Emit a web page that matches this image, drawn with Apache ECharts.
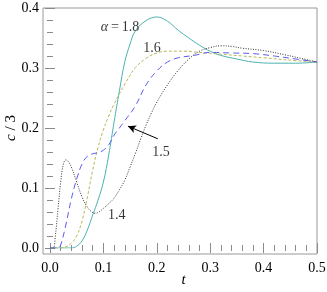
<!DOCTYPE html>
<html><head><meta charset="utf-8">
<script src="https://cdn.jsdelivr.net/npm/echarts@6/dist/echarts.min.js"></script>
<style>html,body{margin:0;padding:0;background:#fff}#c{width:327px;height:292px}</style>
</head><body><div id="c"></div>
<script>
// alpha = 1.8 (teal, solid)
var t18 = [0, 0.04, 0.05, 0.06, 0.07, 0.08, 0.09, 0.10, 0.11, 0.12, 0.13, 0.14, 0.15, 0.16, 0.18, 0.20, 0.22, 0.24, 0.26, 0.28, 0.30, 0.32, 0.35, 0.38, 0.42, 0.46, 0.50];
var c18 = [0, 0, 0.003, 0.012, 0.03, 0.055, 0.08, 0.11, 0.155, 0.21, 0.262, 0.31, 0.34, 0.362, 0.379, 0.385, 0.378, 0.363, 0.35, 0.338, 0.328, 0.321, 0.315, 0.31, 0.308, 0.308, 0.31];
// alpha = 1.6 (olive, short dash)
var t16 = [0, 0.02, 0.03, 0.04, 0.05, 0.06, 0.07, 0.08, 0.09, 0.10, 0.11, 0.12, 0.13, 0.14, 0.15, 0.16, 0.18, 0.20, 0.22, 0.25, 0.28, 0.32, 0.36, 0.40, 0.45, 0.50];
var c16 = [0, 0, 0.002, 0.008, 0.02, 0.045, 0.085, 0.13, 0.168, 0.197, 0.22, 0.24, 0.257, 0.273, 0.288, 0.301, 0.316, 0.325, 0.328, 0.328, 0.326, 0.323, 0.32, 0.317, 0.313, 0.31];
// alpha = 1.5 (blue, long dash)
var t15 = [0, 0.015, 0.02, 0.03, 0.04, 0.05, 0.06, 0.07, 0.08, 0.09, 0.10, 0.11, 0.12, 0.13, 0.14, 0.16, 0.18, 0.20, 0.22, 0.24, 0.27, 0.30, 0.34, 0.38, 0.42, 0.46, 0.50];
var c15 = [0, 0, 0.005, 0.04, 0.082, 0.115, 0.14, 0.153, 0.157, 0.159, 0.163, 0.172, 0.188, 0.2, 0.212, 0.237, 0.272, 0.295, 0.31, 0.317, 0.321, 0.326, 0.325, 0.324, 0.32, 0.315, 0.31];
// alpha = 1.4 (black, dotted)
var t14 = [0, 0.006, 0.01, 0.015, 0.02, 0.025, 0.03, 0.035, 0.04, 0.05, 0.06, 0.07, 0.08, 0.085, 0.09, 0.10, 0.11, 0.12, 0.13, 0.14, 0.15, 0.16, 0.17, 0.18, 0.19, 0.20, 0.22, 0.24, 0.26, 0.28, 0.30, 0.32, 0.34, 0.36, 0.40, 0.44, 0.47, 0.50];
var c14 = [0, 0, 0.02, 0.065, 0.11, 0.14, 0.147, 0.143, 0.135, 0.11, 0.085, 0.068, 0.059, 0.058, 0.059, 0.066, 0.074, 0.083, 0.097, 0.113, 0.135, 0.158, 0.182, 0.205, 0.225, 0.243, 0.272, 0.296, 0.315, 0.328, 0.334, 0.337, 0.336, 0.333, 0.329, 0.322, 0.316, 0.31];

// curve labels
var labelText = ['{i|α}\u2009=\u20091.8', '1.6', '1.5', '1.4'];
var labelT = [0.131, 0.191, 0.208, 0.125];
var labelC = [0.368, 0.333, 0.16, 0.055];
// arrow (tail -> head) pointing at alpha = 1.5
var arrowT = [0.202, 0.146];
var arrowC = [0.182, 0.203];

// ticks
var xTickLabels = ['0.0', '0.1', '0.2', '0.3', '0.4', '0.5'];
var yTickLabels = ['0.0', '0.1', '0.2', '0.3', '0.4'];

function pairs(a, b) { return a.map(function (v, i) { return [v, b[i]]; }); }

var FONT = 'Liberation Serif';
var TICK = '#8a8a8a';

function dataAxis(dim, pos, offset, showLabel) {
  var isX = dim === 'x';
  var labels = isX ? xTickLabels : yTickLabels;
  var ax = {
    type: 'value', gridIndex: 1, position: pos, offset: offset,
    min: 0, max: isX ? 0.5 : 0.4, interval: 0.1,
    axisLine: { show: false }, splitLine: { show: false }, minorSplitLine: { show: false },
    axisTick: { show: true, inside: true, length: 5, lineStyle: { color: TICK, width: 1 } },
    minorTick: { show: true, splitNumber: 5, length: 3, lineStyle: { color: TICK, width: 1 } },
    axisLabel: showLabel ? { show: true, margin: isX ? 7 : 4, fontFamily: FONT, fontSize: 14, color: '#000',
      formatter: function (v) { return labels[Math.round(v * 10)]; } } : { show: false }
  };
  if (showLabel) {
    ax.nameLocation = 'middle';
    ax.nameMoveOverlap = false;
    if (isX) {
      ax.name = 't'; ax.nameGap = 19;
      ax.nameTextStyle = { fontFamily: FONT, fontSize: 15, fontStyle: 'italic', color: '#000' };
    } else {
      ax.name = '{i|c} / 3'; ax.nameGap = 24; ax.nameRotate = 90;
      ax.nameTextStyle = { fontFamily: FONT, fontSize: 15, color: '#000', rich: { i: { fontFamily: FONT, fontSize: 15, fontStyle: 'italic' } } };
    }
  }
  return ax;
}

function line(t, c, color, type) {
  return {
    type: 'line', xAxisIndex: 0, yAxisIndex: 0, data: pairs(t, c), showSymbol: false, smooth: 0.4,
    lineStyle: { color: color, width: 1, type: type }, silent: true, z: 3
  };
}

var labelData = labelText.map(function (s, i) { return { value: [labelT[i], labelC[i]], name: s }; });

var option = {
  animation: false,
  grid: [
    { left: 43, right: 10, top: 8, bottom: 38, show: true, borderColor: '#999', borderWidth: 1, backgroundColor: 'transparent', outerBoundsMode: 'none' },
    { left: 50, right: 10, top: 8, bottom: 44, show: false, outerBoundsMode: 'none' }
  ],
  xAxis: [
    dataAxis('x', 'bottom', 6, true),
    dataAxis('x', 'top', 0, false),
    { type: 'value', gridIndex: 0, show: false, min: 0, max: 1 }
  ],
  yAxis: [
    dataAxis('y', 'left', 7, true),
    dataAxis('y', 'right', 0, false),
    { type: 'value', gridIndex: 0, show: false, min: 0, max: 1 }
  ],
  series: [
    line(t18, c18, '#4cb2ae', 'solid'),
    line(t16, c16, '#b8b85a', [3, 2]),
    line(t15, c15, '#5a5af5', [6, 4]),
    line(t14, c14, '#333333', [1, 1.5]),
    {
      type: 'scatter', xAxisIndex: 0, yAxisIndex: 0, data: labelData, symbolSize: 0, silent: true, z: 5,
      label: { show: true, position: 'inside', formatter: function (p) { return p.name; },
        fontFamily: FONT, fontSize: 14, color: '#000', rich: { i: { fontFamily: FONT, fontSize: 14, fontStyle: 'italic', color: '#000' } } },
      markLine: {
        silent: true, symbol: ['none', 'arrow'], symbolSize: [6, 8], label: { show: false },
        lineStyle: { color: '#000', width: 1, type: 'solid' },
        data: [[{ coord: [arrowT[0], arrowC[0]] }, { coord: [arrowT[1], arrowC[1]] }]]
      }
    }
  ]
};
echarts.init(document.getElementById('c')).setOption(option);
</script></body></html>
